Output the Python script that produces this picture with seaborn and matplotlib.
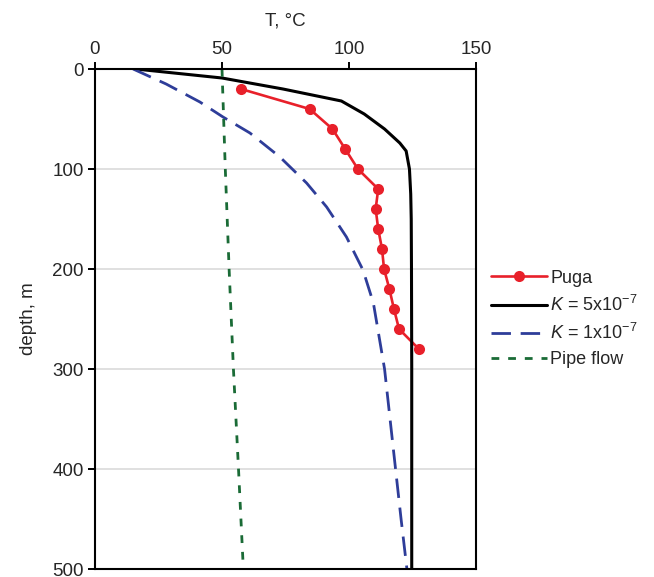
import seaborn as sns
import matplotlib.pyplot as plt
import pandas as pd

# profile data (T in degC, depth in m)
puga_depth = [20, 40, 60, 80, 100, 120, 140, 160, 180, 200, 220, 240, 260, 280]
puga_T = [57.5, 84.5, 93.5, 98.5, 103.5, 111.5, 110.5, 111.5, 113.0, 113.8, 115.9, 117.7, 119.7, 127.5]

k5_depth = [0, 9, 20, 32, 45, 60, 74, 82, 100, 125, 150, 200, 300, 400, 500]
k5_T = [16.0, 50.0, 74.0, 97.0, 106.0, 114.0, 120.0, 122.5, 123.8, 124.3, 124.5, 124.6, 124.7, 124.7, 124.7]

k1_depth = [0, 15, 33, 48, 64, 88, 114, 138, 168, 201, 234, 300, 381, 450, 500]
k1_T = [15.0, 28.0, 41.3, 50.4, 61.0, 72.8, 83.3, 91.2, 99.0, 105.5, 109.6, 114.0, 117.5, 120.5, 122.8]

pipe_depth = [0, 100, 200, 300, 400, 500]
pipe_T = [50.0, 51.3, 52.8, 54.5, 56.5, 58.4]

labels = ["Puga", r"$K$ = 5x10$^{-7}$", r"$K$ = 1x10$^{-7}$", "Pipe flow"]

puga = pd.DataFrame({"T": puga_T, "depth": puga_depth})
k5 = pd.DataFrame({"T": k5_T, "depth": k5_depth})
k1 = pd.DataFrame({"T": k1_T, "depth": k1_depth})
pipe = pd.DataFrame({"T": pipe_T, "depth": pipe_depth})

sns.set_theme(style="white")
plt.rcParams['font.family'] = ['Liberation Sans', 'DejaVu Sans']
plt.rcParams['mathtext.fontset'] = 'custom'
plt.rcParams['mathtext.it'] = 'Liberation Sans:italic'
plt.rcParams['mathtext.rm'] = 'Liberation Sans'

fs = 13.5
fig = plt.figure(figsize=(6.54, 5.77), dpi=100)
ax = fig.add_axes([95/654, 1 - 569/577, 381/654, 500/577])

ax.grid(axis='y', color='#dddddd', lw=1.3)
ax.set_axisbelow(True)

sns.lineplot(data=puga, x="T", y="depth", sort=False, estimator=None, ax=ax,
             color='#e8202a', lw=1.9, marker='o', markersize=8, markeredgewidth=0,
             label=labels[0])
sns.lineplot(data=k5, x="T", y="depth", sort=False, estimator=None, ax=ax,
             color='black', lw=2.2, label=labels[1])
sns.lineplot(data=k1, x="T", y="depth", sort=False, estimator=None, ax=ax,
             color='#2e3d99', lw=2.0, label=labels[2])
sns.lineplot(data=pipe, x="T", y="depth", sort=False, estimator=None, ax=ax,
             color='#1a6b36', lw=2.0, label=labels[3])
ax.lines[2].set_dashes((7, 3.5))
ax.lines[3].set_dashes((2.8, 3.2))

ax.set_xlim(0, 150)
ax.set_ylim(500, 0)
ax.set_xticks([0, 50, 100, 150])
ax.set_yticks([0, 100, 200, 300, 400, 500])
ax.xaxis.tick_top()
ax.xaxis.set_label_position('top')
ax.set_xlabel("T, °C", fontsize=fs, labelpad=11)
ax.set_ylabel("depth, m", fontsize=fs, labelpad=11)
ax.tick_params(axis='both', labelsize=fs, length=5, width=1.4, color='black',
               direction='out', pad=3)
ax.tick_params(axis='x', top=True, bottom=False)
ax.tick_params(axis='y', left=True)
for s in ax.spines.values():
    s.set_color('black')
    s.set_linewidth(1.5)

ax.legend(loc='center left', bbox_to_anchor=(1.02, 0.5), frameon=False,
          fontsize=13, handlelength=3.1, handletextpad=0.2, labelspacing=0.45,
          borderaxespad=0)

fig.savefig("out.png", dpi=100)
